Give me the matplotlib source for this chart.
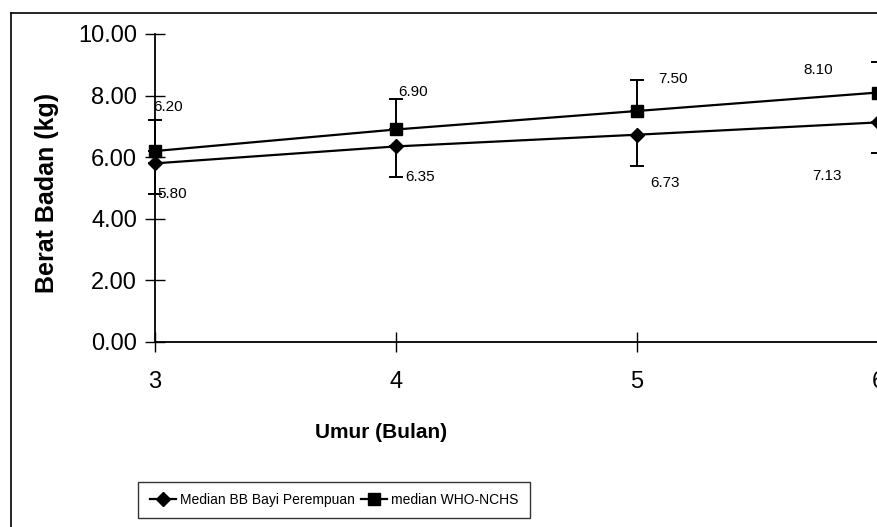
import matplotlib.pyplot as plt
from matplotlib.lines import Line2D

umur = [3, 4, 5, 6]
bb_perempuan = [5.80, 6.35, 6.73, 7.13]
who_nchs = [6.20, 6.90, 7.50, 8.10]
err = [1.0, 1.0, 1.0, 1.0]
yticks = [0, 2, 4, 6, 8, 10]

# label offsets in points (layout only)
off_who = [(-1.5, 32), (1.5, 27), (15, 23), (-54, 16)]
off_bb = [(1.5, -22), (6.5, -22), (9.5, -35), (-47, -38.5)]

plt.rcParams['font.family'] = ['Liberation Sans', 'DejaVu Sans']

fig = plt.figure(figsize=(8.77, 5.27), dpi=100)
ax = fig.add_axes([155 / 877, 1 - 342 / 527, 723 / 877, 308 / 527])

ax.errorbar(umur, who_nchs, yerr=[[0] * 4, err], color='black', lw=1.6,
            marker='s', ms=8, capsize=5, elinewidth=1.4, capthick=1.4,
            clip_on=False, label='median WHO-NCHS', zorder=3)
ax.errorbar(umur, bb_perempuan, yerr=[err, [0] * 4], color='black', lw=1.6,
            marker='D', ms=7, capsize=5, elinewidth=1.4, capthick=1.4,
            clip_on=False, label='Median BB Bayi Perempuan', zorder=3)

for i in range(len(umur)):
    ax.annotate('%.2f' % who_nchs[i], (umur[i], who_nchs[i]), xytext=off_who[i],
                textcoords='offset points', fontsize=11, va='center', ha='left')
    ax.annotate('%.2f' % bb_perempuan[i], (umur[i], bb_perempuan[i]), xytext=off_bb[i],
                textcoords='offset points', fontsize=11, va='center', ha='left')

ax.set_xlim(3, 6)
ax.set_ylim(0, 10)
ax.set_xticks(umur)
ax.set_yticks(yticks)
ax.set_yticklabels(['%.2f' % v for v in yticks])
ax.tick_params(axis='both', direction='inout', length=14, width=1, labelsize=17)
ax.tick_params(axis='x', pad=14)
ax.tick_params(axis='y', pad=6)
for s in ['top', 'right']:
    ax.spines[s].set_visible(False)
for s in ['left', 'bottom']:
    ax.spines[s].set_linewidth(1.3)
ax.set_facecolor('none')

fig.text(47 / 877, 1 - 193 / 527, 'Berat Badan (kg)', rotation=90, fontsize=18,
         fontweight='bold', ha='center', va='center')
fig.text(381 / 877, 1 - 432 / 527, 'Umur (Bulan)', fontsize=15,
         fontweight='bold', ha='center', va='center')

# outer chart border (cropped on right and bottom)
fig.add_artist(Line2D([11 / 877, 11 / 877], [0, 1 - 13 / 527], color='black', lw=1.2,
                      transform=fig.transFigure))
fig.add_artist(Line2D([11 / 877, 1], [1 - 13 / 527, 1 - 13 / 527], color='black', lw=1.2,
                      transform=fig.transFigure))

h = [Line2D([], [], color='black', marker='D', ms=7, lw=1.6),
     Line2D([], [], color='black', marker='s', ms=8, lw=1.6)]
leg = fig.legend(h, ['Median BB Bayi Perempuan', 'median WHO-NCHS'], ncol=2,
                 loc='center', bbox_to_anchor=(334 / 877, 1 - 500 / 527),
                 fontsize=10, frameon=True, fancybox=False, edgecolor='black',
                 handlelength=1.9, handletextpad=0.3, columnspacing=0.4,
                 borderpad=0.8, borderaxespad=0)
leg.get_frame().set_linewidth(1.0)

fig.savefig('out.png', dpi=100)
